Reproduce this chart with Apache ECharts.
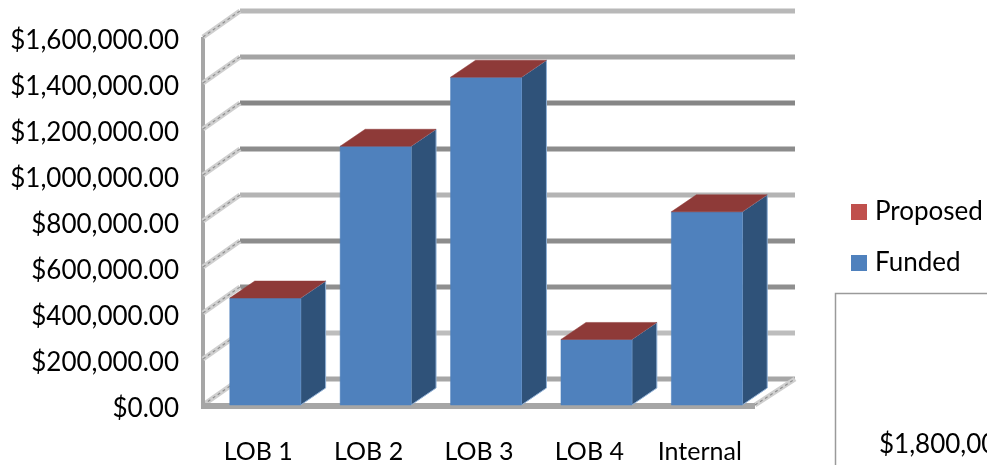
<!DOCTYPE html>
<html>
<head>
<meta charset="utf-8">
<style>html,body{margin:0;padding:0;background:#fff}#chart{width:987px;height:465px}</style>
<script src="https://cdn.jsdelivr.net/npm/echarts@6/dist/echarts.min.js"></script>
</head>
<body>
<div id="chart"></div>
<script>
// Funding by line of business, drawn as stacked columns with a 3D look
const categories = ['LOB 1', 'LOB 2', 'LOB 3', 'LOB 4', 'Internal'];
const funded = [465000, 1125000, 1425000, 285000, 840000];
const proposed = [0, 0, 0, 0, 0];
const tickValues = [0, 200000, 400000, 600000, 800000, 1000000, 1200000, 1400000, 1600000];
const tickLabels = ['$0.00', '$200,000.00', '$400,000.00', '$600,000.00', '$800,000.00',
  '$1,000,000.00', '$1,200,000.00', '$1,400,000.00', '$1,600,000.00'];
const neighbourLabel = '$1,800,000.00';

const FONT = 'Lato';
const FONT_SIZE = 26;
// Oblique projection of the chart box and of each column
const WALL_DX = 37, WALL_DY = -26, WALL_RIGHT_EXTRA = 3;
const BAR_DX = 25, BAR_DY = -17, BAR_SHIFT = 7, BAR_WIDTH_RATIO = 0.642;
const gridColors = ['#a6a6a6', '#bdbdbd', '#8f8f8f', '#8c8c8c', '#b4b4b4', '#8c8c8c', '#868686', '#a4a4a4', '#b8b8b8'];

const FRONT = '#4f81bd', SIDE = '#2f5279', TOP_RED = '#8e3a38', LEGEND_RED = '#c0504d', EDGE = '#8fb0d6';

// Left wall, floor and back-wall gridlines
function renderGrid(params, api) {
  const v = api.value(1);
  const box = params.coordSys;
  const y = api.coord([0, v])[1];
  const x0 = box.x, x1 = box.x + box.width;
  const idx = params.dataIndex;
  const bx0 = x0 + WALL_DX, by = y + WALL_DY, bx1 = x1 + WALL_DX + WALL_RIGHT_EXTRA;
  const children = [
    { type: 'line', shape: { x1: bx0, y1: by, x2: bx1, y2: by },
      style: { stroke: gridColors[idx], lineWidth: 5 } },
    { type: 'line', shape: { x1: x0, y1: y, x2: bx0, y2: by },
      style: { stroke: '#cfcfcf', lineWidth: 5 } },
    { type: 'line', shape: { x1: x0, y1: y, x2: bx0, y2: by },
      style: { stroke: '#8e8e8e', lineWidth: 1.2, lineDash: [3, 3] } }
  ];
  if (idx === 0) {
    children.push(
      { type: 'line', shape: { x1: x1, y1: y, x2: bx1, y2: by },
        style: { stroke: '#cfcfcf', lineWidth: 5 } },
      { type: 'line', shape: { x1: x1, y1: y, x2: bx1, y2: by },
        style: { stroke: '#8e8e8e', lineWidth: 1.2, lineDash: [3, 3] } },
      { type: 'line', shape: { x1: x0, y1: box.y, x2: x0, y2: y },
        style: { stroke: '#a6a6a6', lineWidth: 4 } },
      { type: 'line', shape: { x1: x0 - 2, y1: y + 1, x2: x1, y2: y + 1 },
        style: { stroke: '#a6a6a6', lineWidth: 6 } }
    );
  }
  return { type: 'group', children };
}

function poly(points, fill, stroke) {
  return { type: 'polygon', shape: { points },
    style: { fill, stroke: stroke || fill, lineWidth: stroke ? 1 : 0.5 } };
}

// One stacked block: front face, side face, and the cap when it is the top of the stack
function block(api, low, high, colorFront, colorSide, colorTop, drawBody) {
  const i = api.value(0);
  const bw = api.size([1, 0])[0] * BAR_WIDTH_RATIO;
  const base = api.coord([i, low]);
  const top = api.coord([i, high]);
  const l = base[0] - bw / 2 + BAR_SHIFT, r = l + bw;
  const children = [];
  if (drawBody) {
    children.push(
      poly([[r, base[1]], [r + BAR_DX, base[1] + BAR_DY], [r + BAR_DX, top[1] + BAR_DY], [r, top[1]]], colorSide, EDGE),
      poly([[l, base[1]], [r, base[1]], [r, top[1]], [l, top[1]]], colorFront)
    );
  }
  if (colorTop) {
    children.push(poly([[l, top[1]], [r, top[1]], [r + BAR_DX, top[1] + BAR_DY], [l + BAR_DX, top[1] + BAR_DY]], colorTop));
  }
  return { type: 'group', children };
}

const gridData = tickValues.map(v => [0, v]);
const fundedData = funded.map((v, i) => [i, v]);
const proposedData = proposed.map((v, i) => [i, v]);

const chart = echarts.init(document.getElementById('chart'), null, { renderer: 'canvas' });
chart.setOption({
  animation: false,
  backgroundColor: '#fff',
  textStyle: { fontFamily: FONT },
  legend: {
    orient: 'vertical',
    left: 846,
    top: 194,
    itemWidth: 16,
    itemHeight: 16,
    itemGap: 25,
    icon: 'rect',
    data: ['Proposed', 'Funded'],
    selectedMode: false,
    textStyle: { fontFamily: FONT, fontSize: FONT_SIZE, color: '#000', padding: [0, 0, 0, 3] }
  },
  grid: { left: 203, right: 232, top: 37, bottom: 60 },
  xAxis: {
    type: 'category',
    data: categories,
    axisLine: { show: false },
    axisTick: { show: false },
    axisLabel: { fontFamily: FONT, fontSize: 25, color: '#000', margin: 34 }
  },
  yAxis: {
    type: 'value',
    min: 0,
    max: 1600000,
    interval: 200000,
    axisLine: { show: false },
    axisTick: { show: false },
    splitLine: { show: false },
    axisLabel: {
      fontFamily: FONT, fontSize: FONT_SIZE, color: '#000', margin: 24,
      verticalAlign: 'top', verticalAlignMinLabel: 'top', verticalAlignMaxLabel: 'top',
      lineHeight: 26, padding: [-9, 0, 0, 0],
      formatter: value => tickLabels[tickValues.indexOf(value)]
    }
  },
  series: [
    { type: 'custom', name: 'grid', silent: true, clip: false, z: 1,
      data: gridData, encode: { x: 0, y: 1 }, renderItem: renderGrid },
    { type: 'custom', name: 'Funded', clip: false, z: 2,
      itemStyle: { color: FRONT },
      data: fundedData, encode: { x: 0, y: 1 },
      renderItem: (params, api) => block(api, 0, api.value(1), FRONT, SIDE, null, true) },
    { type: 'custom', name: 'Proposed', clip: false, z: 3,
      itemStyle: { color: LEGEND_RED },
      data: proposedData, encode: { x: 0, y: 1 },
      renderItem: (params, api) => {
        const low = funded[params.dataIndex];
        return block(api, low, low + api.value(1), LEGEND_RED, TOP_RED, TOP_RED, api.value(1) > 0);
      } }
  ],
  graphic: [
    { type: 'polyline', silent: true,
      shape: { points: [[987, 293.5], [835.5, 293.5], [835.5, 465]] },
      style: { stroke: '#9a9a9a', fill: null, lineWidth: 1.5 } },
    { type: 'text', silent: true, left: 879, top: 432,
      style: { text: neighbourLabel, fontFamily: FONT, fontSize: FONT_SIZE, fill: '#000' } }
  ]
});
</script>
</body>
</html>
